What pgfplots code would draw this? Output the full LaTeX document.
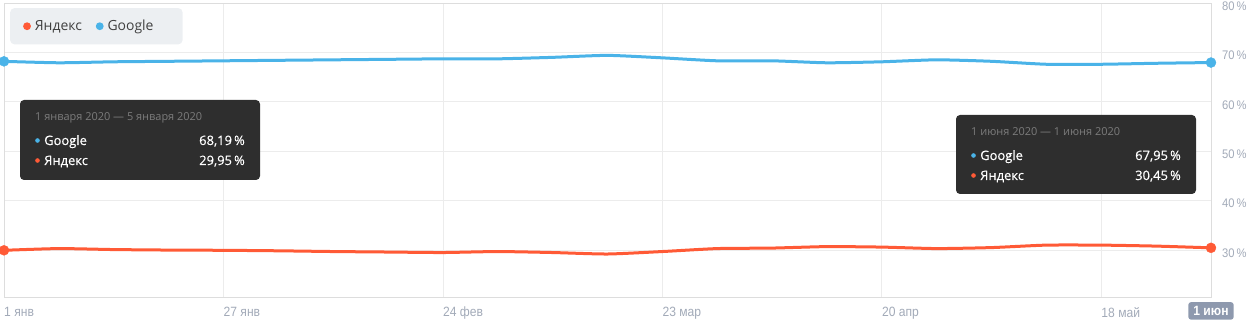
\documentclass[border=0pt]{standalone}
\usepackage{pgfplots}
\pgfplotsset{compat=1.18}
\usepackage{pgfplotstable}
\usepackage{fontspec}
\setmainfont{Open Sans}
\newfontfamily\tickfont{Liberation Sans}[FakeStretch=0.9]
\newfontfamily\tipfont{Open Sans}[FakeBold=0.4]
\definecolor{gblue}{HTML}{4AB3E8}
\definecolor{yred}{HTML}{FF5A36}
\definecolor{gridc}{HTML}{ECECEC}
\definecolor{axisc}{HTML}{DDDDDD}
\definecolor{tickc}{HTML}{A2AAB8}
\definecolor{tipbg}{HTML}{2E2E2E}
\definecolor{tiptitle}{HTML}{7C7C7C}
\definecolor{legbg}{HTML}{ECEFF2}
\definecolor{lastbg}{HTML}{8E99AE}

\pgfplotstableread{
i google yandex
0 68.19 29.95
1 67.90 30.30
2 68.10 30.10
3 68.20 30.00
4 68.30 29.95
5 68.40 29.85
6 68.50 29.70
7 68.60 29.60
8 68.70 29.50
9 68.70 29.70
10 69.00 29.50
11 69.40 29.20
12 68.90 29.70
13 68.30 30.30
14 68.30 30.40
15 67.90 30.70
16 68.10 30.60
17 68.50 30.30
18 68.20 30.50
19 67.60 31.00
20 67.60 31.00
21 67.80 30.80
22 67.95 30.45
}\data

\pgfplotstableread{
i google yandex
0 68.19 29.95
22 67.95 30.45
}\ends

\begin{document}
\begin{tikzpicture}
\useasboundingbox (0,0) rectangle (1251bp,325bp);
\begin{axis}[
  at={(4bp,28bp)}, anchor=south west,
  scale only axis, width=1207bp, height=294bp,
  xmin=0, xmax=22, ymin=20.5, ymax=80,
  axis line style={draw=axisc, line width=0.8bp},
  grid=major, grid style={draw=gridc, line width=0.8bp},
  major tick length=0,
  xtick={0,4,8,12,16,20},
  xticklabels={1 янв, 27 янв, 24 фев, 23 мар, 20 апр, 18 май},
  xticklabel style={anchor=north west, inner sep=0pt, yshift=-10bp, text=tickc, font=\tickfont\fontsize{13.5}{15}\selectfont},
  extra x ticks={22},
  extra x tick labels={\bfseries 1 июн},
  extra x tick style={grid=none, xticklabel style={anchor=north, inner xsep=5bp, inner ysep=4bp, yshift=5bp, fill=lastbg, text=white, rounded corners=2.5bp, font=\tickfont\fontsize{13.5}{15}\selectfont}},
  ytick={30,40,50,60,70,80},
  yticklabels={30\,\%,40\,\%,50\,\%,60\,\%,70\,\%,80\,\%},
  yticklabel pos=right,
  yticklabel style={anchor=west, inner sep=0pt, xshift=11bp, yshift=-3bp, text=tickc, font=\tickfont\fontsize{12.5}{14}\selectfont},
  legend columns=2,
  legend style={at={(0.005,0.983)}, anchor=north west, draw=none, fill=legbg, rounded corners=4bp,
    inner xsep=13bp, inner ysep=10bp, font=\fontsize{14}{16}\selectfont, text=black!75,
    /tikz/every odd column/.append style={column sep=2bp},
    /tikz/every even column/.append style={column sep=12bp}},
  legend image code/.code={\fill (2bp,0bp) circle (2.3bp);},
]
\addplot[color=yred, line width=3bp, smooth, tension=0.35] table[x=i, y=yandex] {\data};
\addlegendentry{Яндекс}
\addplot[color=gblue, line width=3bp, smooth, tension=0.35] table[x=i, y=google] {\data};
\addlegendentry{Google\kern14bp\null}
\addplot[only marks, mark=*, mark size=5bp, color=yred, forget plot] table[x=i, y=yandex] {\ends};
\addplot[only marks, mark=*, mark size=5bp, color=gblue, forget plot] table[x=i, y=google] {\ends};
\end{axis}
% tooltip left
\fill[tipbg, rounded corners=4bp] (20bp,145bp) rectangle (260bp,225bp);
\node[anchor=base west, inner sep=0pt, text=tiptitle, font=\fontsize{11}{13}\selectfont] at (35bp,204bp) {1 января 2020 — 5 января 2020};
\fill[gblue] (37.5bp,184.5bp) circle (2.3bp);
\fill[yred] (37.5bp,164.5bp) circle (2.3bp);
\node[anchor=base west, inner sep=0pt, text=white, font=\tipfont\fontsize{13}{15}\selectfont] at (44bp,180bp) {Google};
\node[anchor=base east, inner sep=0pt, text=white, font=\tipfont\fontsize{13}{15}\selectfont] at (245bp,180bp) {68,19\,\%};
\node[anchor=base west, inner sep=0pt, text=white, font=\tipfont\fontsize{13}{15}\selectfont] at (44bp,160bp) {Яндекс};
\node[anchor=base east, inner sep=0pt, text=white, font=\tipfont\fontsize{13}{15}\selectfont] at (245bp,160bp) {29,95\,\%};
% tooltip right
\fill[tipbg, rounded corners=4bp] (956bp,131bp) rectangle (1196bp,210bp);
\node[anchor=base west, inner sep=0pt, text=tiptitle, font=\fontsize{11}{13}\selectfont] at (971bp,189bp) {1 июня 2020 — 1 июня 2020};
\fill[gblue] (973.5bp,169.5bp) circle (2.3bp);
\fill[yred] (973.5bp,149.5bp) circle (2.3bp);
\node[anchor=base west, inner sep=0pt, text=white, font=\tipfont\fontsize{13}{15}\selectfont] at (980bp,165bp) {Google};
\node[anchor=base east, inner sep=0pt, text=white, font=\tipfont\fontsize{13}{15}\selectfont] at (1181bp,165bp) {67,95\,\%};
\node[anchor=base west, inner sep=0pt, text=white, font=\tipfont\fontsize{13}{15}\selectfont] at (980bp,145bp) {Яндекс};
\node[anchor=base east, inner sep=0pt, text=white, font=\tipfont\fontsize{13}{15}\selectfont] at (1181bp,145bp) {30,45\,\%};
\end{tikzpicture}
\end{document}
